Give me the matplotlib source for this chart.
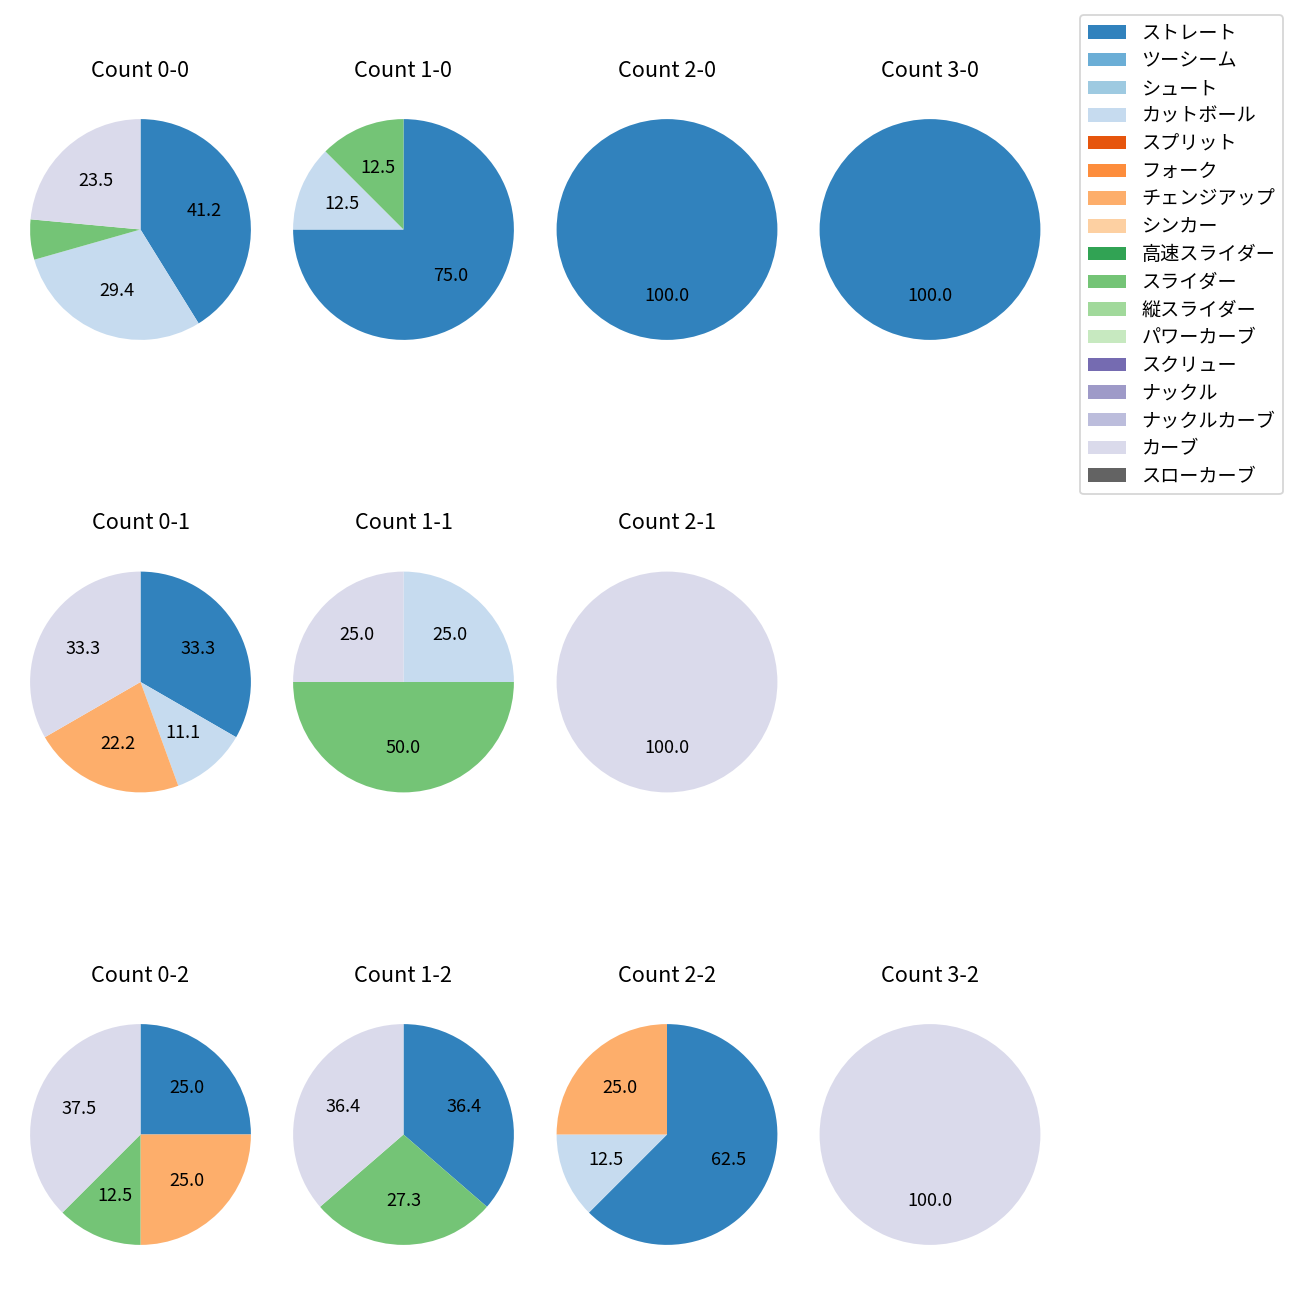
import matplotlib
matplotlib.use("Agg")
import matplotlib.pyplot as plt
from matplotlib.patches import Patch

plt.rcParams['font.family'] = ['Noto Sans CJK JP', 'DejaVu Sans']

pitch_types = ['ストレート', 'ツーシーム', 'シュート', 'カットボール', 'スプリット', 'フォーク',
               'チェンジアップ', 'シンカー', '高速スライダー', 'スライダー', '縦スライダー',
               'パワーカーブ', 'スクリュー', 'ナックル', 'ナックルカーブ', 'カーブ', 'スローカーブ']

count_labels = ['0-0', '1-0', '2-0', '3-0',
                '0-1', '1-1', '2-1', '3-1',
                '0-2', '1-2', '2-2', '3-2']

pitches_0_0 = {'ストレート': 7, 'カットボール': 5, 'スライダー': 1, 'カーブ': 4}
pitches_1_0 = {'ストレート': 6, 'カットボール': 1, 'スライダー': 1}
pitches_2_0 = {'ストレート': 2}
pitches_3_0 = {'ストレート': 1}
pitches_0_1 = {'ストレート': 3, 'カットボール': 1, 'チェンジアップ': 2, 'カーブ': 3}
pitches_1_1 = {'カットボール': 1, 'スライダー': 2, 'カーブ': 1}
pitches_2_1 = {'カーブ': 1}
pitches_3_1 = {}
pitches_0_2 = {'ストレート': 2, 'チェンジアップ': 2, 'スライダー': 1, 'カーブ': 3}
pitches_1_2 = {'ストレート': 4, 'スライダー': 3, 'カーブ': 4}
pitches_2_2 = {'ストレート': 5, 'カットボール': 1, 'チェンジアップ': 2}
pitches_3_2 = {'カーブ': 1}

all_counts = [pitches_0_0, pitches_1_0, pitches_2_0, pitches_3_0,
              pitches_0_1, pitches_1_1, pitches_2_1, pitches_3_1,
              pitches_0_2, pitches_1_2, pitches_2_2, pitches_3_2]

cmap = plt.get_cmap('tab20c')
colors = {p: cmap(i) for i, p in enumerate(pitch_types)}

W = H = 1300
fig = plt.figure(figsize=(10, 10), dpi=130)

col_cx = [140.5, 403.5, 667, 930]
row_cy = [229.5, 682, 1134.5]
box = 276.0

for idx, (lab, data) in enumerate(zip(count_labels, all_counts)):
    r, c = divmod(idx, 4)
    cx, cy = col_cx[c], row_cy[r]
    ax = fig.add_axes([(cx - box / 2) / W, 1 - (cy + box / 2) / H, box / W, box / H])
    if not data:
        ax.axis('off')
        continue
    names = [p for p in pitch_types if p in data]
    vals = [data[p] for p in names]
    ax.pie(vals, colors=[colors[p] for p in names], startangle=90, counterclock=False,
           autopct=lambda p: f'{p:.1f}' if p >= 10 else '',
           textprops={'fontsize': 10})
    ax.set_title(f'Count {lab}', fontsize=12, pad=8.3)

handles = [Patch(facecolor=colors[p], label=p) for p in pitch_types]
fig.legend(handles=handles, loc='upper right',
           bbox_to_anchor=(1283 / W, 1 - 15 / H), borderaxespad=0, fontsize=10.6,
           labelspacing=0.35)

fig.savefig('out.png', dpi=130)
